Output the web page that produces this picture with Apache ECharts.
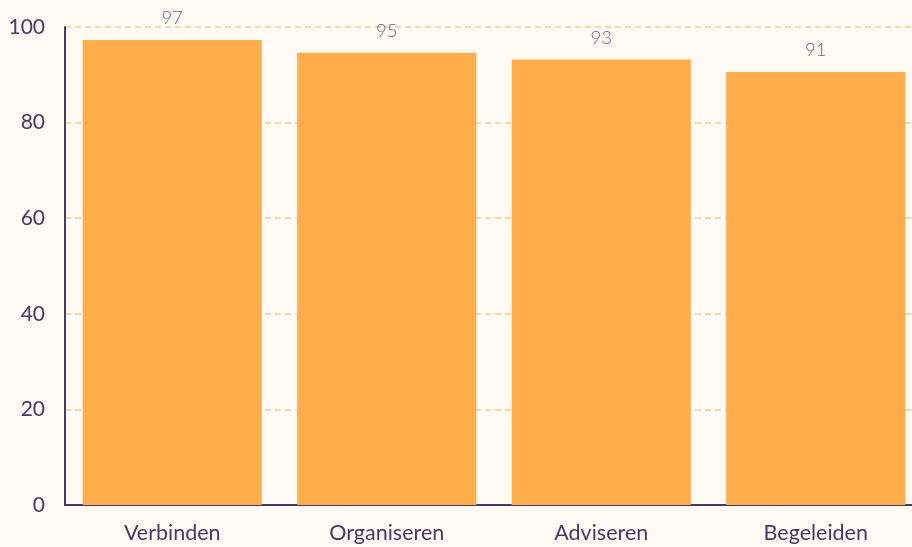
<!DOCTYPE html>
<html><head><meta charset="utf-8">
<script src="https://cdn.jsdelivr.net/npm/echarts@6/dist/echarts.min.js"></script>
<style>html,body{margin:0;padding:0;background:#fffaf4;overflow:hidden;width:912px;height:547px}#c{width:923px;height:547px}</style>
</head><body><div id="c"></div>
<script>
const categories = ["Verbinden", "Organiseren", "Adviseren", "Begeleiden"];
const values = [97.3, 94.6, 93.2, 90.6];
const yTicks = [0, 20, 40, 60, 80, 100];

const chart = echarts.init(document.getElementById('c'));
chart.setOption({
  backgroundColor: '#fffaf4',
  animation: false,
  grid: { left: 65, right: 0, top: 27, bottom: 42, containLabel: false },
  xAxis: {
    type: 'category', data: categories,
    axisLine: { lineStyle: { color: '#4b3766', width: 2 } },
    axisTick: { show: false },
    axisLabel: { color: '#4b3766', fontFamily: 'Lato', fontSize: 21.5, margin: 17 }
  },
  yAxis: {
    type: 'value', min: yTicks[0], max: yTicks[yTicks.length-1], interval: 20,
    axisLine: { show: true, lineStyle: { color: '#4b3766', width: 2 } },
    axisTick: { show: false },
    axisLabel: { color: '#4b3766', fontFamily: 'Lato', fontSize: 21, margin: 20 },
    splitLine: { lineStyle: { color: '#ffc98c', type: [6, 4], width: 1.5 } }
  },
  series: [{
    type: 'bar', data: values, barCategoryGap: '16.5%',
    itemStyle: { color: '#ffad4b' },
    label: { show: true, position: 'top', distance: 12, color: '#6e5a86', fontFamily: 'Lato', fontWeight: 300, fontSize: 18.5,
      formatter: p => Math.round(p.value) }
  }]
});
</script></body></html>
